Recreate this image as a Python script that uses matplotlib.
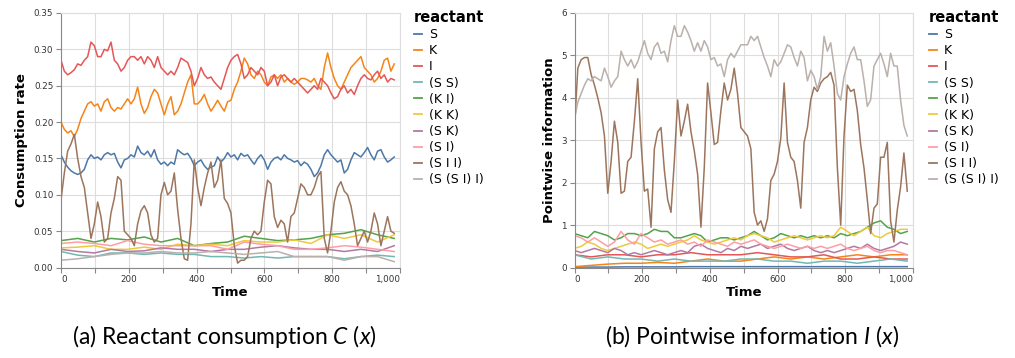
import numpy as np
import matplotlib
matplotlib.use("Agg")
import matplotlib.pyplot as plt

plt.rcParams['font.family'] = ['DejaVu Sans']
plt.rcParams['mathtext.fontset'] = 'custom'
plt.rcParams['mathtext.rm'] = 'Lato'
plt.rcParams['mathtext.it'] = 'Lato:italic'

# ---- data ----
T_END = 983  # last recorded time step

reactants = ['S', 'K', 'I', '(S S)', '(K I)', '(K K)', '(S K)', '(S I)', '(S I I)', '(S (S I) I)']
colors = ['#4c78a8', '#f58518', '#e45756', '#72b7b2', '#54a24b',
          '#eeca3b', '#b279a2', '#ff9da6', '#9d755d', '#bab0ac']

# consumption rate C(x)
c_S = [0.155, 0.145, 0.138, 0.133, 0.13, 0.128, 0.13, 0.135, 0.148, 0.155, 0.15, 0.152, 0.148, 0.155, 0.158,
       0.155, 0.157, 0.145, 0.137, 0.148, 0.15, 0.155, 0.152, 0.167, 0.158, 0.155, 0.16, 0.152, 0.162, 0.148,
       0.142, 0.145, 0.14, 0.145, 0.142, 0.162, 0.158, 0.155, 0.157, 0.15, 0.14, 0.145, 0.148, 0.14, 0.135,
       0.138, 0.14, 0.152, 0.145, 0.15, 0.158, 0.152, 0.155, 0.148, 0.157, 0.153, 0.155, 0.148, 0.142, 0.15,
       0.155, 0.148, 0.135, 0.145, 0.15, 0.152, 0.148, 0.155, 0.15, 0.148, 0.145, 0.147, 0.14, 0.145, 0.142,
       0.135, 0.125, 0.13, 0.14, 0.155, 0.162, 0.155, 0.15, 0.145, 0.148, 0.13, 0.135, 0.148, 0.158, 0.155,
       0.152, 0.158, 0.165, 0.155, 0.148, 0.16, 0.162, 0.152, 0.145, 0.148, 0.152]
c_K = [0.2, 0.19, 0.185, 0.188, 0.18, 0.19, 0.205, 0.215, 0.225, 0.228, 0.222, 0.225, 0.215, 0.228, 0.232,
       0.22, 0.215, 0.22, 0.218, 0.225, 0.232, 0.225, 0.232, 0.248, 0.225, 0.212, 0.22, 0.235, 0.245, 0.24,
       0.225, 0.21, 0.225, 0.235, 0.21, 0.215, 0.225, 0.24, 0.255, 0.265, 0.225, 0.225, 0.23, 0.238, 0.225,
       0.215, 0.222, 0.23, 0.222, 0.215, 0.228, 0.23, 0.245, 0.255, 0.27, 0.288, 0.28, 0.265, 0.26, 0.27,
       0.265, 0.255, 0.25, 0.262, 0.265, 0.26, 0.265, 0.255, 0.26, 0.255, 0.252, 0.255, 0.26, 0.26, 0.258,
       0.255, 0.26, 0.25, 0.245, 0.275, 0.295, 0.275, 0.26, 0.25, 0.245, 0.255, 0.265, 0.275, 0.28, 0.285,
       0.29, 0.275, 0.27, 0.265, 0.255, 0.26, 0.27, 0.285, 0.288, 0.27, 0.28]
c_I = [0.285, 0.27, 0.265, 0.268, 0.272, 0.28, 0.278, 0.285, 0.29, 0.31, 0.305, 0.29, 0.29, 0.3, 0.298,
       0.31, 0.285, 0.28, 0.27, 0.275, 0.285, 0.29, 0.29, 0.285, 0.29, 0.28, 0.29, 0.285, 0.275, 0.29,
       0.275, 0.27, 0.265, 0.27, 0.265, 0.275, 0.288, 0.285, 0.282, 0.27, 0.25, 0.26, 0.275, 0.265, 0.26,
       0.262, 0.255, 0.25, 0.245, 0.26, 0.275, 0.285, 0.29, 0.293, 0.28, 0.26, 0.265, 0.275, 0.27, 0.265,
       0.275, 0.27, 0.25, 0.255, 0.265, 0.25, 0.262, 0.265, 0.26, 0.255, 0.26, 0.255, 0.25, 0.245, 0.24,
       0.245, 0.25, 0.245, 0.26, 0.255, 0.25, 0.24, 0.232, 0.235, 0.245, 0.25, 0.24, 0.245, 0.238, 0.25,
       0.26, 0.265, 0.26, 0.258, 0.265, 0.27, 0.26, 0.265, 0.255, 0.26, 0.258]
c_SS = [0.022, 0.017, 0.015, 0.02, 0.02, 0.018, 0.02, 0.018, 0.018, 0.015, 0.015, 0.013, 0.015, 0.013,
        0.015, 0.015, 0.015, 0.012, 0.015, 0.017, 0.015]
c_KI = [0.037, 0.04, 0.035, 0.04, 0.038, 0.042, 0.035, 0.04, 0.03, 0.033, 0.035, 0.043, 0.04, 0.037,
        0.038, 0.04, 0.045, 0.047, 0.052, 0.045, 0.04]
c_KK = [0.027, 0.028, 0.03, 0.025, 0.025, 0.028, 0.025, 0.032, 0.03, 0.032, 0.03, 0.037, 0.035, 0.035,
        0.038, 0.033, 0.045, 0.04, 0.045, 0.035, 0.045]
c_SK = [0.025, 0.022, 0.02, 0.025, 0.022, 0.023, 0.027, 0.025, 0.025, 0.022, 0.025, 0.025, 0.028, 0.03,
        0.027, 0.025, 0.025, 0.022, 0.025, 0.022, 0.03]
c_SI = [0.033, 0.035, 0.033, 0.03, 0.037, 0.032, 0.03, 0.03, 0.03, 0.03, 0.025, 0.035, 0.032, 0.03,
        0.025, 0.025, 0.027, 0.03, 0.028, 0.025, 0.022]
c_SII = [0.093, 0.13, 0.16, 0.17, 0.183, 0.15, 0.125, 0.11, 0.075, 0.04, 0.06, 0.09, 0.07, 0.035, 0.04,
         0.075, 0.095, 0.125, 0.12, 0.05, 0.045, 0.04, 0.03, 0.06, 0.078, 0.085, 0.075, 0.045, 0.035, 0.04,
         0.1, 0.117, 0.1, 0.105, 0.13, 0.08, 0.04, 0.012, 0.01, 0.06, 0.148, 0.11, 0.085, 0.11, 0.13,
         0.145, 0.11, 0.12, 0.148, 0.095, 0.088, 0.075, 0.03, 0.006, 0.01, 0.01, 0.015, 0.04, 0.05, 0.045,
         0.05, 0.09, 0.12, 0.115, 0.07, 0.055, 0.065, 0.06, 0.035, 0.07, 0.075, 0.095, 0.115, 0.11, 0.1,
         0.1, 0.11, 0.125, 0.132, 0.04, 0.02, 0.05, 0.09, 0.11, 0.118, 0.105, 0.1, 0.085, 0.06, 0.03,
         0.04, 0.05, 0.035, 0.05, 0.075, 0.06, 0.03, 0.05, 0.07, 0.05, 0.047]
c_SSII = [0.01, 0.012, 0.015, 0.018, 0.02, 0.02, 0.022, 0.02, 0.02, 0.022, 0.02, 0.018, 0.02, 0.022,
          0.015, 0.015, 0.015, 0.01, 0.015, 0.015, 0.008]

# pointwise information I(x)
i_S = [0.01, 0.01, 0.01, 0.015, 0.015, 0.015, 0.015, 0.02, 0.02, 0.02, 0.02, 0.02, 0.02, 0.02, 0.02,
       0.02, 0.02, 0.02, 0.02, 0.02, 0.02]
i_K = [0.02, 0.05, 0.08, 0.1, 0.1, 0.12, 0.1, 0.15, 0.2, 0.15, 0.15, 0.2, 0.25, 0.2, 0.25, 0.2, 0.25,
       0.3, 0.25, 0.3, 0.3]
i_I = [0.3, 0.25, 0.3, 0.3, 0.25, 0.3, 0.3, 0.35, 0.3, 0.3, 0.3, 0.35, 0.3, 0.25, 0.25, 0.3, 0.2, 0.2,
       0.25, 0.2, 0.2]
i_SS = [0.3, 0.2, 0.25, 0.2, 0.2, 0.15, 0.2, 0.15, 0.15, 0.15, 0.2, 0.2, 0.15, 0.15, 0.1, 0.15, 0.15,
        0.1, 0.15, 0.2, 0.15]
i_KI = [0.8, 0.75, 0.7, 0.85, 0.8, 0.75, 0.65, 0.7, 0.8, 0.8, 0.75, 0.8, 0.9, 0.85, 0.85, 0.7, 0.7,
        0.75, 0.8, 0.75, 0.6, 0.65, 0.7, 0.7, 0.65, 0.7, 0.75, 0.85, 0.75, 0.65, 0.7, 0.8, 0.75, 0.7,
        0.75, 0.7, 0.75, 0.7, 0.75, 0.7, 0.8, 0.75, 0.8, 0.85, 0.95, 1.05, 1.1, 0.95, 0.9, 0.8, 0.85]
i_KK = [0.45, 0.5, 0.6, 0.55, 0.45, 0.4, 0.45, 0.5, 0.55, 0.6, 0.55, 0.45, 0.5, 0.55, 0.5, 0.55, 0.6,
        0.65, 0.75, 0.65, 0.6, 0.55, 0.6, 0.65, 0.7, 0.65, 0.75, 0.8, 0.75, 0.7, 0.6, 0.65, 0.7, 0.75,
        0.7, 0.65, 0.7, 0.75, 0.7, 0.75, 0.95, 0.85, 0.75, 0.85, 0.95, 0.75, 0.7, 0.8, 0.85, 0.9, 0.9]
i_SK = [0.4, 0.35, 0.4, 0.45, 0.4, 0.35, 0.45, 0.4, 0.3, 0.35, 0.3, 0.35, 0.4, 0.35, 0.3, 0.35, 0.4,
        0.35, 0.5, 0.55, 0.45, 0.4, 0.35, 0.45, 0.4, 0.5, 0.45, 0.5, 0.55, 0.45, 0.5, 0.55, 0.45, 0.4,
        0.45, 0.5, 0.4, 0.35, 0.4, 0.35, 0.4, 0.45, 0.5, 0.45, 0.55, 0.45, 0.4, 0.45, 0.5, 0.6, 0.55]
i_SI = [0.75, 0.7, 0.6, 0.7, 0.6, 0.5, 0.6, 0.85, 0.65, 0.55, 0.8, 0.7, 0.6, 0.65, 0.55, 0.6, 0.65,
        0.55, 0.6, 0.5, 0.65, 0.6, 0.55, 0.5, 0.6, 0.55, 0.6, 0.65, 0.55, 0.5, 0.45, 0.5, 0.55, 0.5,
        0.45, 0.5, 0.45, 0.5, 0.45, 0.5, 0.55, 0.45, 0.4, 0.45, 0.5, 0.4, 0.35, 0.4, 0.4, 0.35, 0.3]
i_SII = [3.3, 4.7, 4.9, 4.95, 4.95, 4.55, 4.3, 4.0, 3.65, 3.1, 1.75, 2.5, 3.45, 2.95, 1.75, 1.8, 2.5,
         2.6, 3.45, 4.45, 2.95, 1.8, 1.85, 0.95, 2.8, 3.2, 3.3, 2.3, 1.6, 1.3, 2.5, 3.95, 3.1, 3.45,
         3.85, 3.2, 2.75, 2.2, 0.95, 2.35, 4.35, 3.65, 2.9, 2.95, 3.7, 4.35, 3.95, 4.2, 4.7, 4.1, 3.3,
         3.2, 3.1, 2.8, 1.3, 1.0, 1.1, 0.85, 1.15, 2.05, 2.2, 2.5, 3.05, 4.35, 2.95, 2.6, 2.5, 2.05,
         1.4, 2.95, 3.3, 3.95, 4.25, 4.15, 4.35, 4.45, 4.5, 4.6, 4.3, 2.35, 1.0, 3.1, 4.3, 4.15, 4.2,
         3.7, 2.9, 2.35, 1.6, 0.8, 1.4, 1.5, 2.6, 2.6, 2.95, 1.1, 0.6, 1.35, 1.9, 2.7, 1.8]
i_SSII = [3.5, 3.9, 4.1, 4.3, 4.45, 4.4, 4.5, 4.45, 4.4, 4.7, 4.5, 4.25, 4.4, 4.5, 5.1, 4.9, 4.75, 4.9,
          4.7, 4.85, 5.1, 5.35, 5.05, 4.9, 5.2, 5.3, 5.05, 5.1, 4.85, 5.35, 5.7, 5.45, 5.45, 5.7, 5.55,
          5.35, 5.1, 5.3, 5.1, 5.35, 5.2, 4.9, 4.95, 4.75, 4.8, 4.5, 4.9, 5.05, 4.95, 5.1, 5.25, 5.25,
          5.25, 5.45, 5.35, 5.45, 5.2, 4.95, 4.75, 4.5, 4.9, 4.75, 4.85, 5.05, 5.25, 5.2, 4.95, 4.75,
          5.1, 4.95, 4.4, 4.65, 4.5, 4.2, 4.5, 5.45, 5.1, 5.3, 4.75, 4.1, 3.95, 4.5, 4.8, 5.05, 5.2,
          4.9, 4.9, 4.4, 3.8, 3.95, 4.75, 4.9, 5.05, 4.8, 4.5, 5.05, 4.75, 4.75, 3.95, 3.35, 3.1]

consumption = [c_S, c_K, c_I, c_SS, c_KI, c_KK, c_SK, c_SI, c_SII, c_SSII]
information = [i_S, i_K, i_I, i_SS, i_KI, i_KK, i_SK, i_SI, i_SII, i_SSII]

W, H = 1015, 358
fig = plt.figure(figsize=(W / 100, H / 100), dpi=100)

def panel(x0, x1, y0, y1):
    return fig.add_axes([x0 / W, 1 - y1 / H, (x1 - x0) / W, (y1 - y0) / H])

def style_axes(ax, ylabel, ymax, ystep, yfmt):
    ax.set_xlim(0, 1000)
    ax.set_ylim(0, ymax)
    ax.set_xticks(range(0, 1001, 100))
    ax.set_xticklabels(['{:,}'.format(v) if v % 200 == 0 else '' for v in range(0, 1001, 100)])
    yt = np.arange(0, ymax + 1e-9, ystep)
    ax.set_yticks(yt)
    ax.set_yticklabels([yfmt.format(v) for v in yt])
    ax.grid(True, color='#dddddd', linewidth=0.8)
    ax.set_axisbelow(True)
    for s in ['top', 'right']:
        ax.spines[s].set_color('#dddddd')
        ax.spines[s].set_linewidth(0.8)
    for s in ['left', 'bottom']:
        ax.spines[s].set_color('#888888')
        ax.spines[s].set_linewidth(0.8)
    ax.tick_params(length=3.5, width=0.8, color='#888888', labelsize=6.3,
                   labelcolor='#333333', pad=2)
    labs = ax.get_xticklabels()
    labs[0].set_horizontalalignment('left')
    labs[-1].set_horizontalalignment('right')
    ax.set_xlabel('Time', fontsize=9.5, fontweight='bold', labelpad=1)
    ax.set_ylabel(ylabel, fontsize=9.5, fontweight='bold', labelpad=4)

def draw(ax, series):
    for name, vals, col in zip(reactants, series, colors):
        t = np.linspace(0, T_END, len(vals))
        ax.plot(t, vals, color=col, linewidth=1.1, label=name, solid_joinstyle='round')

def legend(ax, x_px):
    leg = ax.legend(loc='upper left', bbox_to_anchor=(x_px / W, 1 - 10 / H),
                    bbox_transform=fig.transFigure, frameon=False, fontsize=9,
                    title='reactant', title_fontproperties={'weight': 'bold', 'size': 10.5},
                    handlelength=0.65, handletextpad=0.55, labelspacing=0.25,
                    borderaxespad=0, borderpad=0, alignment='left')
    for line in leg.get_lines():
        line.set_linewidth(1.3)

ax1 = panel(61, 400, 13, 267.5)
draw(ax1, consumption)
style_axes(ax1, 'Consumption rate', 0.35, 0.05, '{:.2f}')
legend(ax1, 414)

ax2 = panel(574.5, 913, 13, 267.5)
draw(ax2, information)
style_axes(ax2, 'Pointwise information', 6, 1, '{:.0f}')
legend(ax2, 929)

fig.text(224 / W, 1 - 336 / H, r'(a) Reactant consumption $C$ ($x$)', fontsize=16.5,
         family='Lato', ha='center', va='center')
fig.text(752 / W, 1 - 336 / H, r'(b) Pointwise information $I$ ($x$)', fontsize=16.5,
         family='Lato', ha='center', va='center')

fig.savefig('out.png', dpi=100)
